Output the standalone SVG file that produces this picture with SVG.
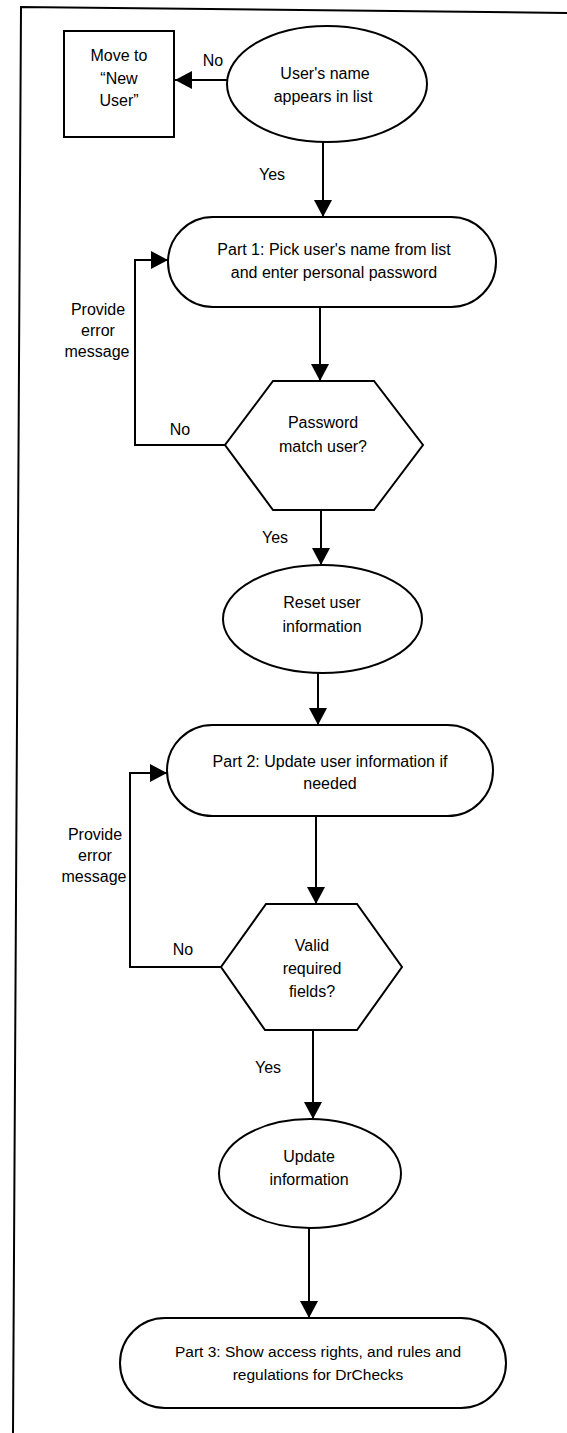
<svg xmlns="http://www.w3.org/2000/svg" width="567" height="1433" viewBox="0 0 567 1433">
<defs>
<style>
.s{fill:#fff;stroke:#000;stroke-width:2}
.c{fill:none;stroke:#000;stroke-width:2}
.t{font-family:"Liberation Sans",Arial,sans-serif;font-size:16px;fill:#000;text-anchor:middle}
.t15{font-size:15.5px}
</style>
<marker id="ah" markerUnits="userSpaceOnUse" markerWidth="18" markerHeight="18" viewBox="0 0 18 18" refX="17" refY="9" orient="auto">
<path d="M0,0 L17,9 L0,18 Z" fill="#000"/>
</marker>
</defs>
<rect width="567" height="1433" fill="#fff"/>
<g id="frame">
<path class="c" d="M567,13 L21,7 L13,1433"/>
</g>
<g id="connectors">
<path class="c" d="M227,80 L175,80" marker-end="url(#ah)"/>
<path class="c" d="M323,142 L323,217" marker-end="url(#ah)"/>
<path class="c" d="M320,307 L320,381" marker-end="url(#ah)"/>
<path class="c" d="M225,445 L135,445 L135,260 L168,260" marker-end="url(#ah)"/>
<path class="c" d="M321,510 L321,565" marker-end="url(#ah)"/>
<path class="c" d="M318,673 L318,725" marker-end="url(#ah)"/>
<path class="c" d="M316,816 L316,904" marker-end="url(#ah)"/>
<path class="c" d="M221,967 L130,967 L130,773 L167,773" marker-end="url(#ah)"/>
<path class="c" d="M313,1030 L313,1119" marker-end="url(#ah)"/>
<path class="c" d="M309,1228 L309,1318" marker-end="url(#ah)"/>
<text class="t" x="213" y="66">No</text>
<text class="t" x="272" y="180">Yes</text>
<text class="t" x="98" y="315">Provide</text>
<text class="t" x="98" y="336">error</text>
<text class="t" x="97" y="357">message</text>
<text class="t" x="180" y="435">No</text>
<text class="t" x="275" y="543">Yes</text>
<text class="t" x="95" y="840">Provide</text>
<text class="t" x="95" y="861">error</text>
<text class="t" x="94" y="882">message</text>
<text class="t" x="183" y="955">No</text>
<text class="t" x="268" y="1073">Yes</text>
</g>
<g id="new-user">
<rect class="s" x="64" y="31" width="110" height="106"/>
<text class="t" x="119" y="61">Move to</text>
<text class="t" x="119" y="84">“New</text>
<text class="t" x="119" y="106">User”</text>
</g>
<g id="name-in-list">
<ellipse class="s" cx="327" cy="84" rx="100" ry="58"/>
<text class="t" x="325" y="79">User's name</text>
<text class="t" x="323" y="102">appears in list</text>
</g>
<g id="part1">
<rect class="s" x="168" y="217" width="328" height="90" rx="45"/>
<text class="t" x="334" y="255">Part 1: Pick user's name from list</text>
<text class="t" x="334" y="278">and enter personal password</text>
</g>
<g id="password-match">
<polygon class="s" points="273,381 374,381 423,445 374,510 273,510 225,445"/>
<text class="t" x="323" y="428">Password</text>
<text class="t" x="323" y="452">match user?</text>
</g>
<g id="reset-info">
<ellipse class="s" cx="322.5" cy="619" rx="99.5" ry="54"/>
<text class="t" x="322" y="608">Reset user</text>
<text class="t" x="322" y="632">information</text>
</g>
<g id="part2">
<rect class="s" x="167" y="725" width="326" height="91" rx="45.5"/>
<text class="t" x="330" y="767">Part 2: Update user information if</text>
<text class="t" x="330" y="789">needed</text>
</g>
<g id="valid-fields">
<polygon class="s" points="266,904 357,904 402,967 357,1030 265,1030 221,967"/>
<text class="t" x="312" y="951">Valid</text>
<text class="t" x="312" y="974">required</text>
<text class="t" x="312" y="997">fields?</text>
</g>
<g id="update-info">
<ellipse class="s" cx="310" cy="1173.5" rx="91" ry="54.5"/>
<text class="t" x="309" y="1162">Update</text>
<text class="t" x="309" y="1185">information</text>
</g>
<g id="part3">
<rect class="s" x="120" y="1318" width="386" height="90" rx="45"/>
<text class="t t15" x="318" y="1357">Part 3: Show access rights, and rules and</text>
<text class="t t15" x="318" y="1380">regulations for DrChecks</text>
</g>
</svg>
